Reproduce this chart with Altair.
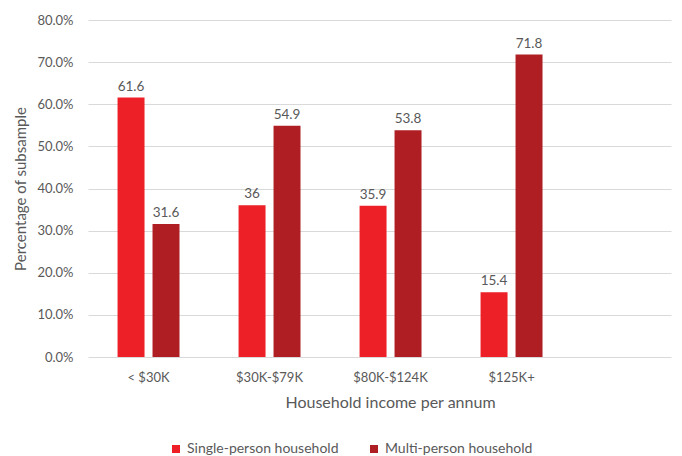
import altair as alt
import pandas as pd

categories = ["< $30K", "$30K-$79K", "$80K-$124K", "$125K+"]
series = ["Single-person household", "Multi-person household"]
single_values = [61.6, 36, 35.9, 15.4]
multi_values = [31.6, 54.9, 53.8, 71.8]
colors = ["#ED2027", "#AF1E23"]
y_ticks = [0, 10, 20, 30, 40, 50, 60, 70, 80]

rows = []
for c, s, m in zip(categories, single_values, multi_values):
    rows.append({"category": c, "series": series[0], "value": s})
    rows.append({"category": c, "series": series[1], "value": m})
df = pd.DataFrame(rows)

FONT = "Lato"
GRAY = "#595959"

x_enc = alt.X(
    "category:N",
    sort=categories,
    scale=alt.Scale(paddingInner=0.488, paddingOuter=0.653, align=0.187),
    axis=alt.Axis(
        title="Household income per annum",
        labelAngle=0,
        ticks=False,
        domain=False,
        grid=False,
        labelPadding=14,
        labelFontSize=13,
        labelColor=GRAY,
        labelFont=FONT,
        titleFont=FONT,
        titleFontSize=16,
        titleFontWeight="normal",
        titleColor=GRAY,
        titleX=302,
        titleY=37,
    ),
)
xo_enc = alt.XOffset(
    "series:N",
    sort=series,
    scale=alt.Scale(paddingInner=0.2286, paddingOuter=0),
)
y_enc = alt.Y(
    "value:Q",
    scale=alt.Scale(domain=[0, 80], nice=False),
    axis=alt.Axis(
        title="Percentage of subsample",
        values=y_ticks,
        labelExpr="format(datum.value, '.1f') + '%'",
        ticks=False,
        domain=False,
        labelPadding=15,
        labelFontSize=13,
        labelColor=GRAY,
        labelFont=FONT,
        titleFont=FONT,
        titleFontSize=15,
        titleFontWeight="normal",
        titleColor=GRAY,
        titlePadding=8,
        gridColor="#D9D9D9",
        gridWidth=1,
    ),
)
color_enc = alt.Color(
    "series:N",
    sort=series,
    scale=alt.Scale(domain=series, range=colors),
    legend=alt.Legend(
        title=None,
        orient="none",
        direction="horizontal",
        legendX=81,
        legendY=422,
        symbolType="square",
        symbolSize=64,
        symbolStrokeWidth=0,
        labelFont=FONT,
        labelFontSize=14,
        labelColor=GRAY,
        labelOffset=4,
        columnPadding=28,
    ),
)

bars = alt.Chart(df).mark_bar().encode(
    x=x_enc, xOffset=xo_enc, y=y_enc, color=color_enc
)
labels = alt.Chart(df).mark_text(
    baseline="bottom", dy=-4, font=FONT, fontSize=13.5, color=GRAY
).encode(x=x_enc, xOffset=xo_enc, y=y_enc, text="value:Q")

chart = (
    alt.layer(bars, labels)
    .properties(
        width=583,
        height=337,
        background="white",
        autosize=alt.AutoSizeParams(type="none"),
        padding={"left": 88, "top": 20, "right": 11, "bottom": 99},
    )
    .configure_view(stroke="transparent", strokeWidth=0)
)

chart.save("out.html", embed_options={"renderer": "svg", "actions": False})
